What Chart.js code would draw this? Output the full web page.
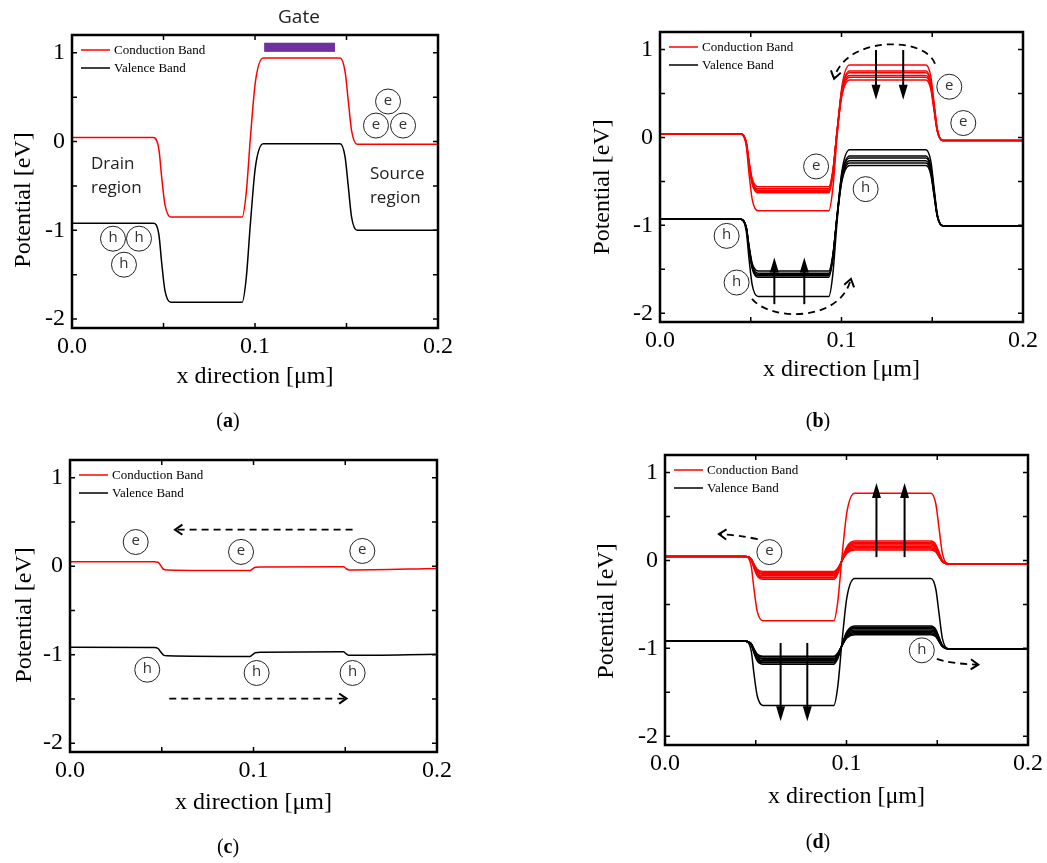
<!DOCTYPE html>
<html>
<head>
<meta charset="utf-8">
<script src="https://cdn.jsdelivr.net/npm/chart.js@4.4.0/dist/chart.umd.min.js"></script>
<style>
  body { margin: 0; background: #fff; width: 1047px; height: 863px; position: relative; overflow: hidden; }
  canvas { position: absolute; }
</style>
</head>
<body>
<canvas id="ca" width="523" height="431" style="left:0;top:0"></canvas>
<canvas id="cb" width="524" height="431" style="left:523px;top:0"></canvas>
<canvas id="cc" width="523" height="432" style="left:0;top:431px"></canvas>
<canvas id="cd" width="524" height="432" style="left:523px;top:431px"></canvas>
<script>
// ---- data ----
const seriesNames = ['Conduction Band', 'Valence Band'];
const xTickVals = [0, 0.1, 0.2];
const xTickText = ['0.0', '0.1', '0.2'];
const yTickVals = [-2, -1, 0, 1];
const yTickText = ['-2', '-1', '0', '1'];
const xMinor = [0.05, 0.15];
const yMinor = [-1.5, -0.5, 0.5];

// x positions [um] shared by panels a, b, d
const xPos = [0, 0.0445, 0.0475, 0.049, 0.0508, 0.054, 0.093, 0.0952, 0.0975, 0.1002, 0.1045,
              0.1465, 0.1492, 0.151, 0.1528, 0.1558, 0.2];

// (a) equilibrium
const cbA = [0.045, 0.045, -0.09, -0.40, -0.71, -0.85, -0.85, -0.58, 0.045, 0.67, 0.94,
             0.94, 0.79, 0.455, 0.12, -0.03, -0.03];
const vbA = [-0.92, -0.92, -1.05, -1.365, -1.68, -1.81, -1.81, -1.54, -0.92, -0.29, -0.025,
             -0.025, -0.17, -0.51, -0.855, -1.0, -1.0];

// (b) gate sweep
const cbB = [
  [0.038, 0.038, -0.093, -0.40, -0.704, -0.835, -0.835, -0.586, -0.005, 0.576, 0.825, 0.825, 0.696, 0.395, 0.094, -0.035, -0.035],
  [0.038, 0.038, -0.062, -0.296, -0.53, -0.63, -0.63, -0.422, 0.063, 0.547, 0.755, 0.755, 0.637, 0.36, 0.084, -0.035, -0.035],
  [0.038, 0.038, -0.06, -0.289, -0.517, -0.615, -0.615, -0.413, 0.06, 0.533, 0.735, 0.735, 0.62, 0.35, 0.08, -0.035, -0.035],
  [0.038, 0.038, -0.058, -0.281, -0.504, -0.60, -0.60, -0.404, 0.053, 0.509, 0.705, 0.705, 0.594, 0.335, 0.076, -0.035, -0.035],
  [0.038, 0.038, -0.055, -0.274, -0.492, -0.585, -0.585, -0.395, 0.05, 0.495, 0.685, 0.685, 0.577, 0.325, 0.073, -0.035, -0.035],
  [0.038, 0.038, -0.052, -0.261, -0.47, -0.56, -0.56, -0.378, 0.048, 0.473, 0.655, 0.655, 0.551, 0.31, 0.069, -0.035, -0.035]
];
const vbB = [
  [-0.93, -0.93, -1.062, -1.37, -1.678, -1.81, -1.81, -1.56, -0.975, -0.39, -0.14, -0.14, -0.27, -0.573, -0.875, -1.005, -1.005],
  [-0.93, -0.93, -1.029, -1.26, -1.491, -1.59, -1.59, -1.383, -0.90, -0.417, -0.21, -0.21, -0.329, -0.608, -0.886, -1.005, -1.005],
  [-0.93, -0.93, -1.027, -1.253, -1.478, -1.575, -1.575, -1.374, -0.905, -0.436, -0.235, -0.235, -0.351, -0.62, -0.89, -1.005, -1.005],
  [-0.93, -0.93, -1.025, -1.245, -1.466, -1.56, -1.56, -1.366, -0.913, -0.46, -0.265, -0.265, -0.376, -0.635, -0.894, -1.005, -1.005],
  [-0.93, -0.93, -1.022, -1.238, -1.453, -1.545, -1.545, -1.357, -0.918, -0.479, -0.29, -0.29, -0.397, -0.648, -0.898, -1.005, -1.005],
  [-0.93, -0.93, -1.019, -1.225, -1.432, -1.52, -1.52, -1.34, -0.92, -0.50, -0.32, -0.32, -0.423, -0.663, -0.902, -1.005, -1.005]
];

// (c) flat bands
const xPosC = [0, 0.046, 0.048, 0.0495, 0.051, 0.053, 0.098, 0.0995, 0.101, 0.104, 0.149, 0.1505, 0.152, 0.2];
const cbC = [0.05, 0.05, 0.045, 0.005, -0.035, -0.042, -0.05, -0.03, -0.012, -0.008, -0.006, -0.028, -0.042, -0.025];
const vbC = [-0.915, -0.918, -0.93, -0.97, -1.005, -1.012, -1.02, -1.0, -0.978, -0.972, -0.968, -0.99, -1.008, -0.995];

// (d) drain sweep
const cbD = [
  [0.045, 0.045, -0.065, -0.32, -0.576, -0.685, -0.685, -0.468, 0.04, 0.548, 0.765, 0.765, 0.645, 0.364, 0.082, -0.038, -0.038],
  [0.045, 0.045, 0.006, -0.085, -0.176, -0.215, -0.215, -0.15, 0.003, 0.155, 0.22, 0.22, 0.181, 0.091, 0.001, -0.038, -0.038],
  [0.045, 0.045, 0.008, -0.078, -0.163, -0.20, -0.20, -0.139, 0.003, 0.144, 0.205, 0.205, 0.169, 0.084, -0.002, -0.038, -0.038],
  [0.045, 0.045, 0.01, -0.073, -0.155, -0.19, -0.19, -0.133, 0.0, 0.133, 0.19, 0.19, 0.156, 0.076, -0.004, -0.038, -0.038],
  [0.045, 0.045, 0.012, -0.065, -0.142, -0.175, -0.175, -0.123, 0.0, 0.123, 0.175, 0.175, 0.143, 0.069, -0.006, -0.038, -0.038],
  [0.045, 0.045, 0.014, -0.058, -0.129, -0.16, -0.16, -0.112, 0.0, 0.112, 0.16, 0.16, 0.13, 0.061, -0.008, -0.038, -0.038],
  [0.045, 0.045, 0.016, -0.053, -0.121, -0.15, -0.15, -0.106, -0.003, 0.101, 0.145, 0.145, 0.118, 0.054, -0.011, -0.038, -0.038],
  [0.045, 0.045, 0.018, -0.045, -0.108, -0.135, -0.135, -0.095, -0.002, 0.09, 0.13, 0.13, 0.105, 0.046, -0.013, -0.038, -0.038],
  [0.045, 0.045, 0.02, -0.04, -0.10, -0.125, -0.125, -0.088, -0.003, 0.083, 0.12, 0.12, 0.096, 0.041, -0.014, -0.038, -0.038]
];
const vbD = [
  [-0.92, -0.92, -1.03, -1.285, -1.54, -1.65, -1.65, -1.433, -0.928, -0.422, -0.205, -0.205, -0.325, -0.605, -0.884, -1.004, -1.004],
  [-0.92, -0.92, -0.959, -1.05, -1.141, -1.18, -1.18, -1.115, -0.963, -0.81, -0.745, -0.745, -0.784, -0.875, -0.965, -1.004, -1.004],
  [-0.92, -0.92, -0.957, -1.043, -1.128, -1.165, -1.165, -1.104, -0.963, -0.821, -0.76, -0.76, -0.797, -0.882, -0.967, -1.004, -1.004],
  [-0.92, -0.92, -0.955, -1.038, -1.12, -1.155, -1.155, -1.098, -0.965, -0.832, -0.775, -0.775, -0.809, -0.89, -0.97, -1.004, -1.004],
  [-0.92, -0.92, -0.953, -1.03, -1.107, -1.14, -1.14, -1.088, -0.965, -0.843, -0.79, -0.79, -0.822, -0.897, -0.972, -1.004, -1.004],
  [-0.92, -0.92, -0.951, -1.023, -1.094, -1.125, -1.125, -1.077, -0.965, -0.853, -0.805, -0.805, -0.835, -0.905, -0.974, -1.004, -1.004],
  [-0.92, -0.92, -0.949, -1.018, -1.086, -1.115, -1.115, -1.071, -0.968, -0.864, -0.82, -0.82, -0.848, -0.912, -0.976, -1.004, -1.004],
  [-0.92, -0.92, -0.947, -1.01, -1.073, -1.10, -1.10, -1.06, -0.968, -0.875, -0.835, -0.835, -0.86, -0.92, -0.979, -1.004, -1.004],
  [-0.92, -0.92, -0.946, -1.005, -1.065, -1.09, -1.09, -1.053, -0.968, -0.882, -0.845, -0.845, -0.869, -0.925, -0.98, -1.004, -1.004]
];

// ---- drawing helpers ----
const SERIF = '"Liberation Serif", "Times New Roman", serif';
const SANS = '"Open Sans", "Noto Sans", sans-serif';

function pts(xs, ys) { return xs.map((x, i) => ({ x: x, y: ys[i] })); }

function lineSet(xs, ys, color) {
  return {
    data: pts(xs, ys), borderColor: color, borderWidth: 1.5, pointRadius: 0,
    fill: false, cubicInterpolationMode: 'monotone'
  };
}

function circ(ctx, X, Y, p, letter) {
  ctx.save();
  ctx.beginPath();
  ctx.arc(X(p[0]), Y(p[1]), 12.5, 0, Math.PI * 2);
  ctx.lineWidth = 1;
  ctx.strokeStyle = '#222';
  ctx.stroke();
  ctx.fillStyle = '#333';
  ctx.font = '15px ' + SANS;
  ctx.textAlign = 'center';
  ctx.textBaseline = 'middle';
  ctx.fillText(letter, X(p[0]), Y(p[1]) - 1);
  ctx.restore();
}

function solidArrow(ctx, x1, y1, x2, y2) {
  const a = Math.atan2(y2 - y1, x2 - x1);
  const L = 15, W = 4.5;
  ctx.save();
  ctx.strokeStyle = '#000'; ctx.fillStyle = '#000'; ctx.lineWidth = 2;
  ctx.beginPath();
  ctx.moveTo(x1, y1);
  ctx.lineTo(x2 - Math.cos(a) * (L - 2), y2 - Math.sin(a) * (L - 2));
  ctx.stroke();
  ctx.beginPath();
  ctx.moveTo(x2, y2);
  ctx.lineTo(x2 - Math.cos(a) * L - Math.sin(a) * W, y2 - Math.sin(a) * L + Math.cos(a) * W);
  ctx.lineTo(x2 - Math.cos(a) * L + Math.sin(a) * W, y2 - Math.sin(a) * L - Math.cos(a) * W);
  ctx.closePath();
  ctx.fill();
  ctx.restore();
}

function openHead(ctx, x, y, a) {
  ctx.save();
  ctx.setLineDash([]);
  ctx.lineWidth = 2;
  ctx.beginPath();
  ctx.moveTo(x - Math.cos(a - 0.6) * 9, y - Math.sin(a - 0.6) * 9);
  ctx.lineTo(x, y);
  ctx.lineTo(x - Math.cos(a + 0.6) * 9, y - Math.sin(a + 0.6) * 9);
  ctx.stroke();
  ctx.restore();
}

function dashedCurve(ctx, P) {
  // P: 4 pixel points of a cubic bezier (or 3 for quadratic)
  ctx.save();
  ctx.strokeStyle = '#000';
  ctx.lineWidth = 1.8;
  ctx.setLineDash([7, 5]);
  ctx.beginPath();
  ctx.moveTo(P[0][0], P[0][1]);
  if (P.length === 4) ctx.bezierCurveTo(P[1][0], P[1][1], P[2][0], P[2][1], P[3][0], P[3][1]);
  else if (P.length === 3) ctx.quadraticCurveTo(P[1][0], P[1][1], P[2][0], P[2][1]);
  else ctx.lineTo(P[1][0], P[1][1]);
  ctx.stroke();
  const n = P.length;
  const a = Math.atan2(P[n - 1][1] - P[n - 2][1], P[n - 1][0] - P[n - 2][0]);
  openHead(ctx, P[n - 1][0], P[n - 1][1], a);
  ctx.restore();
}

function frameAndTicks(chart) {
  const ctx = chart.ctx, a = chart.chartArea;
  const X = v => chart.scales.x.getPixelForValue(v);
  const Y = v => chart.scales.y.getPixelForValue(v);
  ctx.save();
  ctx.strokeStyle = '#000';
  ctx.lineWidth = 1.5;
  ctx.beginPath();
  xTickVals.concat(xMinor).forEach(v => {
    const px = X(v);
    ctx.moveTo(px, a.bottom); ctx.lineTo(px, a.bottom - 5);
    ctx.moveTo(px, a.top); ctx.lineTo(px, a.top + 5);
  });
  yTickVals.concat(yMinor).forEach(v => {
    const py = Y(v);
    ctx.moveTo(a.left, py); ctx.lineTo(a.left + 5, py);
    ctx.moveTo(a.right, py); ctx.lineTo(a.right - 5, py);
  });
  ctx.stroke();
  ctx.lineWidth = 2.5;
  ctx.strokeRect(a.left, a.top, a.right - a.left, a.bottom - a.top);
  ctx.restore();
}

function legend(chart) {
  const ctx = chart.ctx, a = chart.chartArea;
  const cols = ['#ff0000', '#000000'];
  ctx.save();
  ctx.font = '13px ' + SERIF;
  ctx.textBaseline = 'middle';
  ctx.fillStyle = '#000';
  seriesNames.forEach((name, i) => {
    const y = a.top + 15 + i * 18;
    ctx.strokeStyle = cols[i];
    ctx.lineWidth = 1.5;
    ctx.beginPath();
    ctx.moveTo(a.left + 9, y); ctx.lineTo(a.left + 38, y);
    ctx.stroke();
    ctx.fillText(name, a.left + 42, y + 1);
  });
  ctx.restore();
}

function titles(chart, yt, xtDy, cap, letter) {
  const ctx = chart.ctx, a = chart.chartArea;
  ctx.save();
  ctx.fillStyle = '#000';
  ctx.font = '24px ' + SERIF;
  ctx.textAlign = 'center';
  ctx.textBaseline = 'middle';
  ctx.fillText('x direction [\u03bcm]', (a.left + a.right) / 2, a.bottom + xtDy);
  ctx.save();
  ctx.translate(yt[0], yt[1]);
  ctx.rotate(-Math.PI / 2);
  ctx.fillText('Potential [eV]', 0, 0);
  ctx.restore();
  // caption "(x)" with bold letter
  ctx.textAlign = 'left';
  const fN = '20px ' + SERIF, fB = 'bold 20px ' + SERIF;
  ctx.font = fN; const wp = ctx.measureText('(').width;
  ctx.font = fB; const wl = ctx.measureText(letter).width;
  let x = cap[0] - (2 * wp + wl) / 2;
  ctx.font = fN; ctx.fillText('(', x, cap[1]);
  ctx.font = fB; ctx.fillText(letter, x + wp, cap[1]);
  ctx.font = fN; ctx.fillText(')', x + wp + wl, cap[1]);
  ctx.restore();
}

function makeChart(id, datasets, pad, extra) {
  const plug = {
    id: 'deco_' + id,
    afterDraw(chart) {
      frameAndTicks(chart);
      legend(chart);
      const X = v => chart.scales.x.getPixelForValue(v);
      const Y = v => chart.scales.y.getPixelForValue(v);
      extra(chart, chart.ctx, X, Y);
    }
  };
  return new Chart(document.getElementById(id), {
    type: 'line',
    data: { datasets: datasets },
    options: {
      responsive: false, animation: false, devicePixelRatio: 1,
      layout: { padding: pad },
      plugins: { legend: { display: false }, tooltip: { enabled: false } },
      scales: {
        x: {
          type: 'linear', min: 0, max: 0.2,
          afterBuildTicks: s => { s.ticks = xTickVals.map(v => ({ value: v })); },
          ticks: { callback: (v, i) => xTickText[i], font: { family: SERIF, size: 24 }, color: '#000', padding: 4, maxRotation: 0, autoSkip: false },
          grid: { display: false, drawTicks: false }, border: { display: false },
          afterFit: s => { s.height = 40; }
        },
        y: {
          min: -2.1, max: 1.2,
          afterBuildTicks: s => { s.ticks = yTickVals.map(v => ({ value: v })); },
          ticks: { callback: (v, i) => yTickText[i], font: { family: SERIF, size: 24 }, color: '#000', padding: 7, autoSkip: false },
          grid: { display: false, drawTicks: false }, border: { display: false },
          afterFit: s => { s.width = 60; }
        }
      }
    },
    plugins: [plug]
  });
}

// ---- panel (a) ----
makeChart('ca', [lineSet(xPos, cbA, '#ff0000'), lineSet(xPos, vbA, '#000000')],
  { left: 12, top: 35, right: 85, bottom: 63 },
  (chart, ctx, X, Y) => {
    ctx.save();
    ctx.fillStyle = '#7030a0';
    ctx.fillRect(X(0.105), Y(1.113), X(0.1437) - X(0.105), Y(1.01) - Y(1.113));
    ctx.fillStyle = '#222';
    ctx.textBaseline = 'middle';
    ctx.textAlign = 'center';
    ctx.font = '19px ' + SANS;
    ctx.fillText('Gate', X(0.124), Y(1.398));
    ctx.textAlign = 'left';
    ctx.font = '17px ' + SANS;
    ctx.fillText('Drain', X(0.0104), Y(-0.26));
    ctx.fillText('region', X(0.0104), Y(-0.53));
    ctx.fillText('Source', X(0.1628), Y(-0.372));
    ctx.fillText('region', X(0.1628), Y(-0.643));
    ctx.restore();
    [[0.1727, 0.451], [0.1661, 0.18], [0.1809, 0.18]].forEach(p => circ(ctx, X, Y, p, 'e'));
    [[0.0224, -1.094], [0.0366, -1.094], [0.0284, -1.387]].forEach(p => circ(ctx, X, Y, p, 'h'));
    titles(chart, [24, 200], 49, [228, 422], 'a');
  });

// ---- panel (b) ----
makeChart('cb', cbB.map(s => lineSet(xPos, s, '#ff0000')).concat(vbB.map(s => lineSet(xPos, s, '#000000'))),
  { left: 77, top: 32, right: 24, bottom: 69 },
  (chart, ctx, X, Y) => {
    [[0.1594, 0.577], [0.1671, 0.164], [0.086, -0.33]].forEach(p => circ(ctx, X, Y, p, 'e'));
    [[0.1133, -0.588], [0.0367, -1.12], [0.0422, -1.651]].forEach(p => circ(ctx, X, Y, p, 'h'));
    [0.119, 0.134].forEach(x => solidArrow(ctx, X(x), Y(0.995), X(x), Y(0.43)));
    [0.063, 0.0795].forEach(x => solidArrow(ctx, X(x), Y(-1.897), X(x), Y(-1.367)));
    dashedCurve(ctx, [[0.1515, 0.839], [0.146, 1.158], [0.1019, 1.158], [0.0959, 0.668]].map(p => [X(p[0]), Y(p[1])]));
    dashedCurve(ctx, [[0.0507, -1.837], [0.0606, -2.088], [0.0992, -2.11], [0.1052, -1.609]].map(p => [X(p[0]), Y(p[1])]));
    titles(chart, [80, 187], 48, [295, 422], 'b');
  });

// ---- panel (c) ----
makeChart('cc', [lineSet(xPosC, cbC, '#ff0000'), lineSet(xPosC, vbC, '#000000')],
  { left: 10, top: 29, right: 86, bottom: 71 },
  (chart, ctx, X, Y) => {
    [[0.0358, 0.273], [0.0932, 0.161], [0.1593, 0.172]].forEach(p => circ(ctx, X, Y, p, 'e'));
    [[0.0421, -1.17], [0.1017, -1.207], [0.154, -1.207]].forEach(p => circ(ctx, X, Y, p, 'h'));
    dashedCurve(ctx, [[X(0.154), Y(0.413)], [X(0.0572), Y(0.413)]]);
    dashedCurve(ctx, [[X(0.0541), Y(-1.496)], [X(0.1507), Y(-1.496)]]);
    titles(chart, [25, 184], 51, [228, 417], 'c');
  });

// ---- panel (d) ----
makeChart('cd', cbD.map(s => lineSet(xPos, s, '#ff0000')).concat(vbD.map(s => lineSet(xPos, s, '#000000'))),
  { left: 82, top: 24, right: 17, bottom: 78 },
  (chart, ctx, X, Y) => {
    circ(ctx, X, Y, [0.0575, 0.095], 'e');
    circ(ctx, X, Y, [0.1415, -1.023], 'h');
    [0.1165, 0.132].forEach(x => solidArrow(ctx, X(x), Y(0.038), X(x), Y(0.88)));
    [0.0637, 0.0784].forEach(x => solidArrow(ctx, X(x), Y(-0.939), X(x), Y(-1.83)));
    dashedCurve(ctx, [[0.0511, 0.243], [0.0393, 0.292], [0.0297, 0.30]].map(p => [X(p[0]), Y(p[1])]));
    dashedCurve(ctx, [[0.1498, -1.12], [0.1562, -1.174], [0.1726, -1.185]].map(p => [X(p[0]), Y(p[1])]));
    titles(chart, [84, 180], 52, [295, 412], 'd');
  });
</script>
</body>
</html>
